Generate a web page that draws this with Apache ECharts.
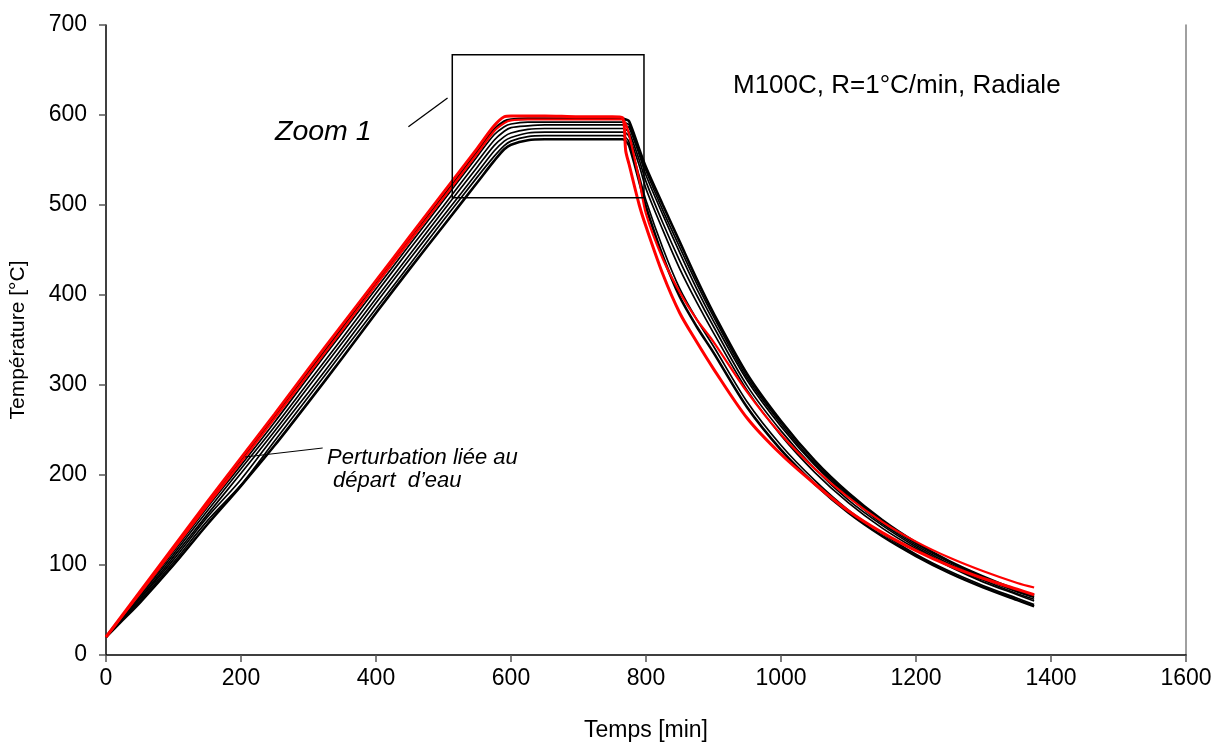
<!DOCTYPE html>
<html>
<head>
<meta charset="utf-8">
<script src="https://cdn.jsdelivr.net/npm/echarts@6/dist/echarts.min.js"></script>
<style>
html,body{margin:0;padding:0;background:#fff;}
#main{width:1216px;height:747px;}
</style>
</head>
<body>
<div id="main"></div>
<script>
// time samples (min)
const times = [0,25,50,100,150,200,250,300,350,400,450,500,550,575,590,600,625,650,700,750,765,770,775,790,800,825,850,875,900,950,1000,1050,1100,1150,1200,1250,1300,1350,1375];

// red curves
const redA = [20,45,70,120,170,219,268,318,367,416,465,514,563,588,598,599,599,599,598,598,597,560,545,500,476,423,380,348,318,263,223,190,160,136,116,99,85,73,67];
const redB = [20,44,68,117,166,214,263,312,361,411,460,508,557,582,591,594,595,595,595,595,595,590,578,528,490,440,403,373,348,292,245,207,175,148,126,108,93,80,75];

// black curves
const black1 = [20,44,69,118,168,216,265,314,363,412,461,510,559,584,593,595,596,596,596,596,596,595,593,562,542,500,459,418,380,312,260,216,180,150,125,104,87,72,66];
const black2 = [20,44,67,115,164,211,259,309,358,407,456,505,554,578,587,590,592,592,592,592,592,591,589,559,538,494,453,413,376,308,257,213,178,148,124,103,86,71,65];
const black3 = [20,43,65,112,160,207,254,303,352,402,451,499,548,572,582,586,588,589,589,589,589,588,586,556,533,489,447,407,371,305,254,211,176,146,122,101,85,70,64];
const black4 = [20,42,63,109,156,202,249,298,347,396,445,494,542,566,576,580,584,585,585,585,585,584,581,550,526,480,438,400,365,299,249,207,172,144,120,99,83,68,62];
const black5 = [20,41,62,106,153,195,244,292,341,391,440,488,536,560,571,575,580,581,581,581,581,580,576,544,518,472,429,392,358,294,244,203,169,141,118,98,81,67,60];
const black6 = [20,40,60,103,149,189,238,287,336,385,434,483,531,554,566,571,576,577,577,577,577,575,570,532,505,452,407,373,343,281,233,194,161,135,112,93,77,63,56];
const black7 = [20,39,58,100,145,188,233,281,330,380,429,477,525,549,562,567,572,573,573,573,573,571,566,526,498,443,398,365,336,275,228,190,158,132,110,91,75,61,54];

// axis ticks
const xTicks = [0,200,400,600,800,1000,1200,1400,1600];
const yTicks = [0,100,200,300,400,500,600,700];

// annotations (data coordinates)
const zoomBoxX = [513, 797];
const zoomBoxY = [508, 667];
const zoomPointer = [[448, 587], [506, 619]];
const pertPointer = [[206, 220], [321, 230]];
const labelZoom = 'Zoom 1';
const labelTitle = 'M100C, R=1°C/min, Radiale';
const labelPert1 = 'Perturbation liée au';
const labelPert2 = ' départ  d\u2019eau';

const FONT = '"Liberation Sans", Arial, sans-serif';

function mk(arr){ return times.map((t,i)=>[t, arr[i]]); }

const blackSets = [
  {d: black1, w: 2.6},
  {d: black2, w: 1.7},
  {d: black3, w: 1.7},
  {d: black4, w: 1.7},
  {d: black5, w: 1.7},
  {d: black6, w: 1.7},
  {d: black7, w: 2.6}
];

const series = [];
blackSets.forEach((b,i)=>{
  series.push({type:'line', name:'b'+i, data: mk(b.d), symbol:'none', smooth:0.3,
    lineStyle:{color:'#000', width:b.w}, silent:true, z:2});
});
series.push({type:'line', name:'rB', data: mk(redB), symbol:'none', smooth:0.3,
  lineStyle:{color:'#ff0000', width:2.2}, silent:true, z:3});
series.push({type:'line', name:'rA', data: mk(redA), symbol:'none', smooth:0.3,
  lineStyle:{color:'#ff0000', width:3}, silent:true, z:3});

const chart = echarts.init(document.getElementById('main'), null, {renderer:'canvas'});
chart.setOption({
  animation:false,
  backgroundColor:'#fff',
  grid:{left:106, right:30, top:25, bottom:88, containLabel:false},
  xAxis:{type:'value', min:xTicks[0], max:xTicks[xTicks.length-1], interval:200,
    name:'Temps [min]', nameLocation:'middle', nameGap:64,
    nameTextStyle:{fontFamily:FONT, fontSize:23, color:'#000'},
    axisLine:{show:true, onZero:false, lineStyle:{color:'#000', width:1.5}},
    axisTick:{show:true, inside:false, length:7, lineStyle:{color:'#555', width:1.5}},
    axisLabel:{fontFamily:FONT, fontSize:23, color:'#000', margin:12, formatter:(v)=>String(v)},
    splitLine:{show:false}},
  yAxis:[{type:'value', min:yTicks[0], max:yTicks[yTicks.length-1], interval:100,
    name:'Température [°C]', nameLocation:'middle', nameGap:77, nameRotate:90,
    nameTextStyle:{fontFamily:FONT, fontSize:21, color:'#000'},
    axisLine:{show:true, onZero:false, lineStyle:{color:'#000', width:1.5}},
    axisTick:{show:true, inside:false, length:7, lineStyle:{color:'#555', width:1.5}},
    axisLabel:{fontFamily:FONT, fontSize:23, color:'#000', margin:19, formatter:(v)=>String(v)},
    splitLine:{show:false}},
   {type:'value', position:'right', min:0, max:700, interval:100,
    axisLine:{show:true, onZero:false, lineStyle:{color:'#808080', width:1.5}},
    axisTick:{show:false}, axisLabel:{show:false}, splitLine:{show:false}}],
  series: series
});

const P = (pt)=>chart.convertToPixel({gridIndex:0}, pt);
const b0 = P([zoomBoxX[0], zoomBoxY[1]]);
const b1 = P([zoomBoxX[1], zoomBoxY[0]]);
const zp0 = P(zoomPointer[0]), zp1 = P(zoomPointer[1]);
const pp0 = P(pertPointer[0]), pp1 = P(pertPointer[1]);

chart.setOption({
  graphic:[
    {type:'rect', shape:{x:b0[0], y:b0[1], width:b1[0]-b0[0], height:b1[1]-b0[1]},
      style:{fill:null, stroke:'#000', lineWidth:1.5}, z:10},
    {type:'line', shape:{x1:zp0[0], y1:zp0[1], x2:zp1[0], y2:zp1[1]},
      style:{stroke:'#000', lineWidth:1.3}, z:10},
    {type:'line', shape:{x1:pp0[0], y1:pp0[1], x2:pp1[0], y2:pp1[1]},
      style:{stroke:'#000', lineWidth:1}, z:10},
    {type:'text', x:275, y:132, style:{text:labelZoom, fontFamily:FONT, fontSize:28.5, fontStyle:'italic',
      fill:'#000', textVerticalAlign:'middle'}, z:10},
    {type:'text', x:733, y:86, style:{text:labelTitle, fontFamily:FONT, fontSize:26, 
      fill:'#000', textVerticalAlign:'middle'}, z:10},
    {type:'text', x:327, y:458, style:{text:labelPert1, fontFamily:FONT, fontSize:22, fontStyle:'italic',
      fill:'#000', textVerticalAlign:'middle'}, z:10},
    {type:'text', x:327, y:481, style:{text:labelPert2, fontFamily:FONT, fontSize:22, fontStyle:'italic',
      fill:'#000', textVerticalAlign:'middle'}, z:10}
  ]
});
</script>
</body>
</html>
